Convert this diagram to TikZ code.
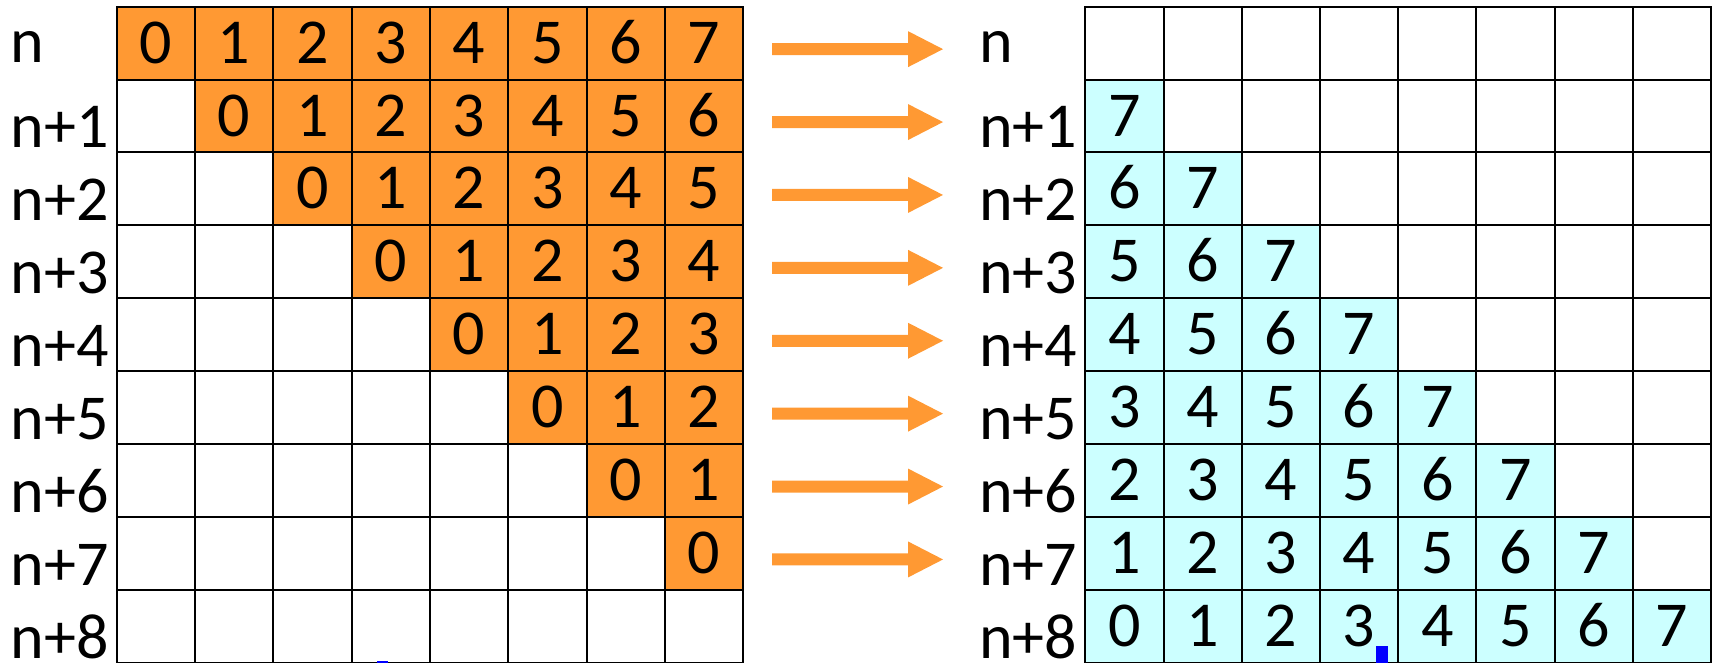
\documentclass[tikz,border=0pt]{standalone}
\usepackage{fontspec}
\setmainfont{Carlito}
\definecolor{orng}{HTML}{FF9933}
\definecolor{cyn}{HTML}{CCFFFF}
\tikzset{
  bigfont/.style={font=\fontsize{64}{70}\selectfont},
  cellnum/.style={bigfont, anchor=base, inner sep=0pt},
  rowlbl/.style={bigfont, anchor=base west, inner sep=0pt},
  gridline/.style={line width=2pt, line cap=rect},
  arr/.style={fill=orng},
  marker/.style={fill=blue}
}
\begin{document}
\begin{tikzpicture}[x=1pt,y=-1pt]
\useasboundingbox (0,0) rectangle (1713,663);
\def\topy{6.7}
\def\rh{72.9}
\def\lx{116.7}
\def\cw{78.3}
\def\rx{1085.3}
\def\rcw{78.2}
% left fills and digits
\foreach \r in {0,...,7}{
  \foreach \c in {\r,...,7}{
    \fill[orng] ({\lx+\c*\cw},{\topy+\r*\rh}) rectangle ++(\cw,\rh);
    \pgfmathtruncatemacro\v{\c-\r}
    \node[cellnum] (L-\r-\c) at ({\lx+(\c+0.5)*\cw},{\topy+(\r+0.5)*\rh+20}) {\v};
  }
}
% right fills and digits
\foreach \r in {1,...,8}{
  \pgfmathtruncatemacro\m{\r-1}
  \foreach \c in {0,...,\m}{
    \fill[cyn] ({\rx+\c*\rcw},{\topy+\r*\rh}) rectangle ++(\rcw,\rh);
    \pgfmathtruncatemacro\v{8-\r+\c}
    \node[cellnum] (R-\r-\c) at ({\rx+(\c+0.5)*\rcw},{\topy+(\r+0.5)*\rh+20}) {\v};
  }
}
% grid lines
\foreach \i in {0,...,9}{
  \draw[gridline] (\lx,{\topy+\i*\rh}) -- ({\lx+8*\cw},{\topy+\i*\rh});
  \draw[gridline] (\rx,{\topy+\i*\rh}) -- ({\rx+8*\rcw},{\topy+\i*\rh});
}
\foreach \j in {0,...,8}{
  \draw[gridline] ({\lx+\j*\cw},\topy) -- ({\lx+\j*\cw},{\topy+9*\rh});
  \draw[gridline] ({\rx+\j*\rcw},\topy) -- ({\rx+\j*\rcw},{\topy+9*\rh});
}
% row labels
\node[rowlbl] (Ln) at (10.5,62.7) {n};
\node[rowlbl] (Rn) at (979,62.7) {n};
\foreach \k in {1,...,8}{
  \node[rowlbl] (Ln\k) at (10.5,{\topy+(\k+1)*\rh-4.5}) {n+\k};
  \node[rowlbl] (Rn\k) at (979,{\topy+(\k+1)*\rh-4.5}) {n+\k};
}
% arrows
\foreach \r in {0,...,7}{
  \pgfmathsetmacro\ay{\topy+(\r+0.5)*\rh+6}
  \fill[arr] (772,{\ay-6}) -- (908,{\ay-6}) -- (908,{\ay-18}) -- (943,\ay)
     -- (908,{\ay+18}) -- (908,{\ay+6}) -- (772,{\ay+6}) -- cycle;
}
% small blue marks
\fill[marker] (1376,646) rectangle (1388,663);
\fill[marker] (377,661) rectangle (388,663);
\end{tikzpicture}
\end{document}
